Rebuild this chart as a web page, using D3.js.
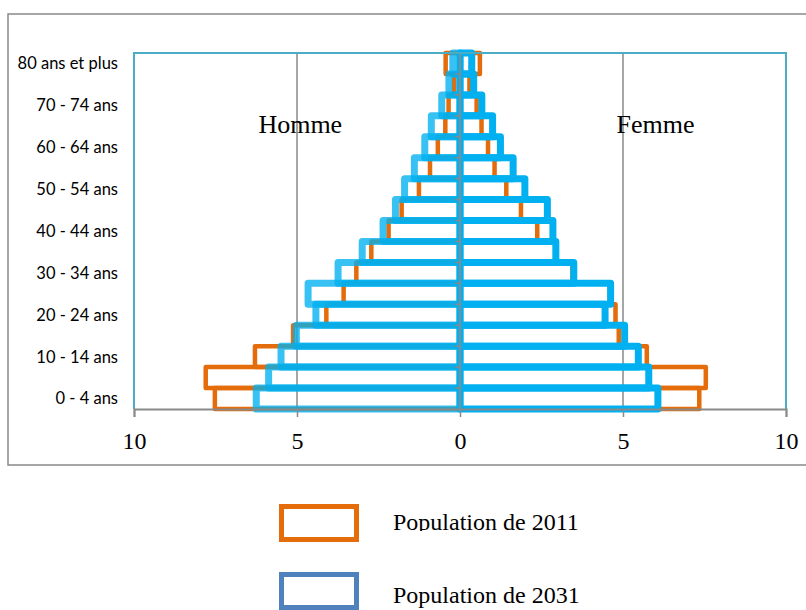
<!DOCTYPE html>
<html><head><meta charset="utf-8">
<script src="https://cdn.jsdelivr.net/npm/d3@7"></script>
<style>body{margin:0;background:#fff;} svg{display:block}</style>
</head><body><svg id="c" width="806" height="610"></svg>
<script>
// ---- data (percent of population), bottom (youngest) to top (oldest) ----
const ageGroups = ["0 - 4 ans","5 - 9 ans","10 - 14 ans","15 - 19 ans","20 - 24 ans","25 - 29 ans",
  "30 - 34 ans","35 - 39 ans","40 - 44 ans","45 - 49 ans","50 - 54 ans","55 - 59 ans",
  "60 - 64 ans","65 - 69 ans","70 - 74 ans","75 - 79 ans","80 ans et plus"];
const shownAgeLabels = ["0 - 4 ans","10 - 14 ans","20 - 24 ans","30 - 34 ans","40 - 44 ans",
  "50 - 54 ans","60 - 64 ans","70 - 74 ans","80 ans et plus"];
const homme2011 = [7.52,7.80,6.29,5.12,4.10,3.57,3.18,2.72,2.19,1.79,1.26,0.92,0.68,0.45,0.35,0.18,0.44];
const homme2031 = [6.25,5.87,5.49,5.02,4.42,4.66,3.74,3.00,2.36,1.98,1.70,1.40,1.08,0.88,0.56,0.34,0.22];
const femme2011 = [7.34,7.54,5.73,4.87,4.77,4.60,3.45,2.92,2.37,1.87,1.42,1.06,0.86,0.66,0.51,0.29,0.61];
const femme2031 = [6.07,5.79,5.47,5.05,4.45,4.62,3.49,2.94,2.85,2.68,1.99,1.63,1.24,1.00,0.67,0.42,0.36];
const xTickValues = [-10,-5,0,5,10];
const sexLabels = ["Homme","Femme"];
const seriesNames = ["Population de 2011","Population de 2031"];

const C2011 = "#E46C0A", C2031 = "#00B0F0", C2031legend = "#4F81BD";
const GRAY = "#898989", BORDER = "#4BACC6";
const SERIF = "'Liberation Serif','Times New Roman',serif";
const SANS = "Lato,'Open Sans',sans-serif";

const svg = d3.select("#c");
const P = {left:134, right:786, top:53, bottom:409};
const x = d3.scaleLinear().domain([-10,10]).range([P.left,P.right]);
const y = d3.scaleBand().domain(ageGroups).range([P.bottom,P.top]).padding(0);

// outer chart frame
svg.append("rect").attr("x",8).attr("y",14).attr("width",812).attr("height",451)
  .attr("fill","none").attr("stroke",GRAY).attr("stroke-width",1.5);

// vertical gridlines
svg.append("g").selectAll("line").data([-5,5]).join("line")
  .attr("x1",d=>x(d)).attr("x2",d=>x(d)).attr("y1",P.top).attr("y2",P.bottom)
  .attr("stroke",GRAY).attr("stroke-width",1.5);

// sex labels
svg.append("text").text(sexLabels[0]).attr("x",x(-4.9)).attr("y",133)
  .attr("text-anchor","middle").attr("font-family",SERIF).attr("font-size",26).attr("fill","#000");
svg.append("text").text(sexLabels[1]).attr("x",x(6.0)).attr("y",133)
  .attr("text-anchor","middle").attr("font-family",SERIF).attr("font-size",26).attr("fill","#000");

function bars(values, side, color, sw, opacity){
  const g = svg.append("g");
  g.selectAll("rect").data(values).join("rect")
    .attr("x",(d)=> side<0 ? x(-d) : x(0))
    .attr("width",(d)=> Math.abs(x(d)-x(0)))
    .attr("y",(d,i)=>y(ageGroups[i]))
    .attr("height",y.bandwidth())
    .attr("fill","none").attr("stroke",color).attr("stroke-width",sw)
    .attr("stroke-linejoin","round").attr("stroke-opacity",opacity);
}
bars(homme2011,-1,C2011,4.5,1);
bars(femme2011, 1,C2011,4.5,1);
bars(homme2031,-1,C2031,7,0.78);
bars(femme2031, 1,C2031,7,1);

// category axis at zero
svg.append("line").attr("x1",x(0)).attr("x2",x(0)).attr("y1",P.top).attr("y2",P.bottom)
  .attr("stroke",GRAY).attr("stroke-width",2);
const bounds = ageGroups.map(a=>y(a)).concat([P.top]);
svg.append("g").selectAll("line").data(bounds).join("line")
  .attr("x1",x(0)-5).attr("x2",x(0)).attr("y1",d=>d).attr("y2",d=>d)
  .attr("stroke",GRAY).attr("stroke-width",1.5);

// plot area border
svg.append("path").attr("d",`M${P.left},${P.bottom}V${P.top}H${P.right}V${P.bottom}`)
  .attr("fill","none").attr("stroke",BORDER).attr("stroke-width",2);

// category labels
svg.append("g").selectAll("text").data(shownAgeLabels).join("text")
  .text(d=>d).attr("x",118).attr("y",d=>y(d)+y.bandwidth()/2).attr("dy","0.36em")
  .attr("text-anchor","end").attr("font-family",SANS).attr("font-size",16.5).attr("fill","#000");

// value axis
const xAxis = d3.axisBottom(x).tickValues(xTickValues).tickFormat(d=>Math.abs(d)).tickSize(8).tickPadding(15);
const ax = svg.append("g").attr("transform",`translate(0,${P.bottom})`).call(xAxis);
ax.select(".domain").attr("stroke",GRAY).attr("stroke-width",2);
ax.selectAll(".tick line").attr("stroke",GRAY).attr("stroke-width",1.5);
ax.selectAll(".tick text").attr("font-family",SERIF).attr("font-size",24).attr("fill","#000");

// legend
const legendColors = [C2011, C2031legend];
const legendY = [506.5, 574.5];
const textY = [530, 603];
svg.append("clipPath").attr("id","lgclip").append("rect")
  .attr("x",380).attr("y",490).attr("width",300).attr("height",41);
seriesNames.forEach((name,i)=>{
  svg.append("rect").attr("x",281.5).attr("y",legendY[i]).attr("width",75).attr("height",33)
    .attr("fill","none").attr("stroke",legendColors[i]).attr("stroke-width",5);
  const t = svg.append("text").text(name).attr("x",393).attr("y",textY[i])
    .attr("font-family",SERIF).attr("font-size",24).attr("fill","#000");
  if(i===0) t.attr("clip-path","url(#lgclip)");
});
</script>
</body></html>
